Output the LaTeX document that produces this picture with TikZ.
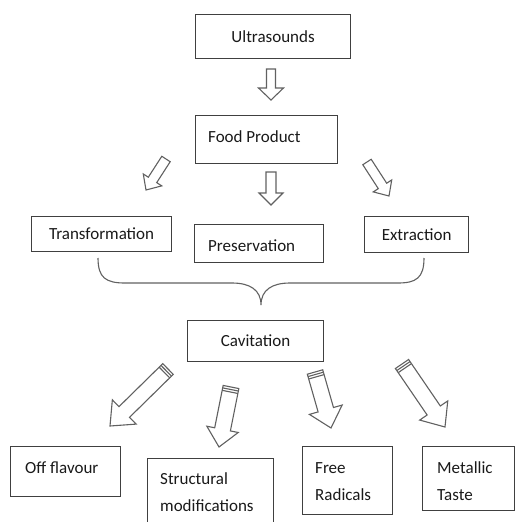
\documentclass[tikz,border=0pt]{standalone}
\usepackage{fontspec}
\setmainfont{Carlito}
\usetikzlibrary{calc}
\tikzset{
  box/.style={draw=black!75, line width=1.2pt, inner sep=0pt},
  lbl/.style={inner sep=0pt, font=\fontsize{17}{27}\selectfont, text=black!90},
  barrow/.style={draw=black!62, line width=1.1pt, fill=white, line join=miter},
  bracestyle/.style={draw=black!62, line width=1.1pt},
}
% tail, tip, half shaft width, half head width, head length
\newcommand\myblockarrow[5]{%
  \draw[barrow] ($ (#1)!#3!90:(#2) $)
    -- ($ ($(#2)!#5!(#1)$)!#3!-90:(#1) $)
    -- ($ ($(#2)!#5!(#1)$)!#4!-90:(#1) $)
    -- (#2)
    -- ($ ($(#2)!#5!(#1)$)!#4!90:(#1) $)
    -- ($ ($(#2)!#5!(#1)$)!#3!90:(#1) $)
    -- ($ (#1)!#3!-90:(#2) $) -- cycle;}
% tail, tip, half shaft width
\newcommand\mytailstripes[3]{%
  \draw[barrow] ($ ($(#1)!2.5pt!(#2)$)!#3!90:(#2) $) -- ($ ($(#1)!2.5pt!(#2)$)!#3!-90:(#2) $);
  \draw[barrow] ($ ($(#1)!5pt!(#2)$)!#3!90:(#2) $) -- ($ ($(#1)!5pt!(#2)$)!#3!-90:(#2) $);}
\begin{document}
\begin{tikzpicture}[x=1pt,y=-1pt]
\useasboundingbox (0,0) rectangle (515,522);
% boxes
\node[box, lbl, minimum width=155pt, minimum height=44pt, anchor=north west] (ultra) at (195,14) {Ultrasounds};
\node[box, minimum width=142pt, minimum height=48pt, anchor=north west] (food) at (195,115) {};
\node[lbl, anchor=base west] (foodt) at (208,142) {Food Product};
\node[box, lbl, minimum width=140pt, minimum height=35pt, anchor=north west] (trans) at (31,216) {Transformation};
\node[box, minimum width=129pt, minimum height=38pt, anchor=north west] (pres) at (194,224) {};
\node[lbl, anchor=base west] (prest) at (208,251) {Preservation};
\node[box, lbl, minimum width=104pt, minimum height=36pt, anchor=north west] (extr) at (364,216) {Extraction};
\node[box, lbl, minimum width=136pt, minimum height=41pt, anchor=north west] (cav) at (187,320) {Cavitation};
\node[box, minimum width=110pt, minimum height=50pt, anchor=north west] (off) at (10,446) {};
\node[lbl, anchor=base west] (offt) at (25,473) {Off flavour};
\node[box, minimum width=126pt, minimum height=72pt, anchor=north west] (struct) at (147,458) {};
\node[lbl, anchor=base west, align=left] (structt) at (160,511) {Structural\\modifications};
\node[box, minimum width=90pt, minimum height=68pt, anchor=north west] (free) at (302,446) {};
\node[lbl, anchor=base west, align=left] (freet) at (315,500) {Free\\Radicals};
\node[box, minimum width=92pt, minimum height=64pt, anchor=north west] (metal) at (422,446) {};
\node[lbl, anchor=base west, align=left] (metalt) at (437,500) {Metallic\\Taste};
% arrow end points
\coordinate (a1s) at (271,69);  \coordinate (a1e) at (271,100);
\coordinate (a2s) at (271,172); \coordinate (a2e) at (271,205);
\coordinate (a3s) at (166,159); \coordinate (a3e) at (146,190);
\coordinate (a4s) at (367,162); \coordinate (a4e) at (389,196);
\coordinate (b1s) at (168,369); \coordinate (b1e) at (110,426);
\coordinate (b2s) at (231,387); \coordinate (b2e) at (219,447);
\coordinate (b3s) at (315,372); \coordinate (b3e) at (331,428);
\coordinate (b4s) at (402,364); \coordinate (b4e) at (445,427);
\myblockarrow{a1s}{a1e}{4.5pt}{12.5pt}{12pt}
\myblockarrow{a2s}{a2e}{5pt}{12pt}{12pt}
\myblockarrow{a3s}{a3e}{5pt}{11pt}{12pt}
\myblockarrow{a4s}{a4e}{5pt}{11pt}{12pt}
\myblockarrow{b1s}{b1e}{7.5pt}{17pt}{20pt}
\mytailstripes{b1s}{b1e}{7.5pt}
\myblockarrow{b2s}{b2e}{8pt}{16pt}{18pt}
\mytailstripes{b2s}{b2e}{8pt}
\myblockarrow{b3s}{b3e}{8pt}{17pt}{19pt}
\mytailstripes{b3s}{b3e}{8pt}
\myblockarrow{b4s}{b4e}{8pt}{17pt}{20pt}
\mytailstripes{b4s}{b4e}{8pt}
% brace
\coordinate (brl) at (98,258);
\coordinate (brr) at (424,258);
\coordinate (brt) at (261,305);
\draw[bracestyle] (brl) .. controls (98,278) and (106,283) .. (125,283)
  -- (232,283) .. controls (250,283) and (261,290) .. (brt)
  .. controls (261,290) and (272,283) .. (290,283)
  -- (398,283) .. controls (416,283) and (424,278) .. (brr);
\end{tikzpicture}
\end{document}
